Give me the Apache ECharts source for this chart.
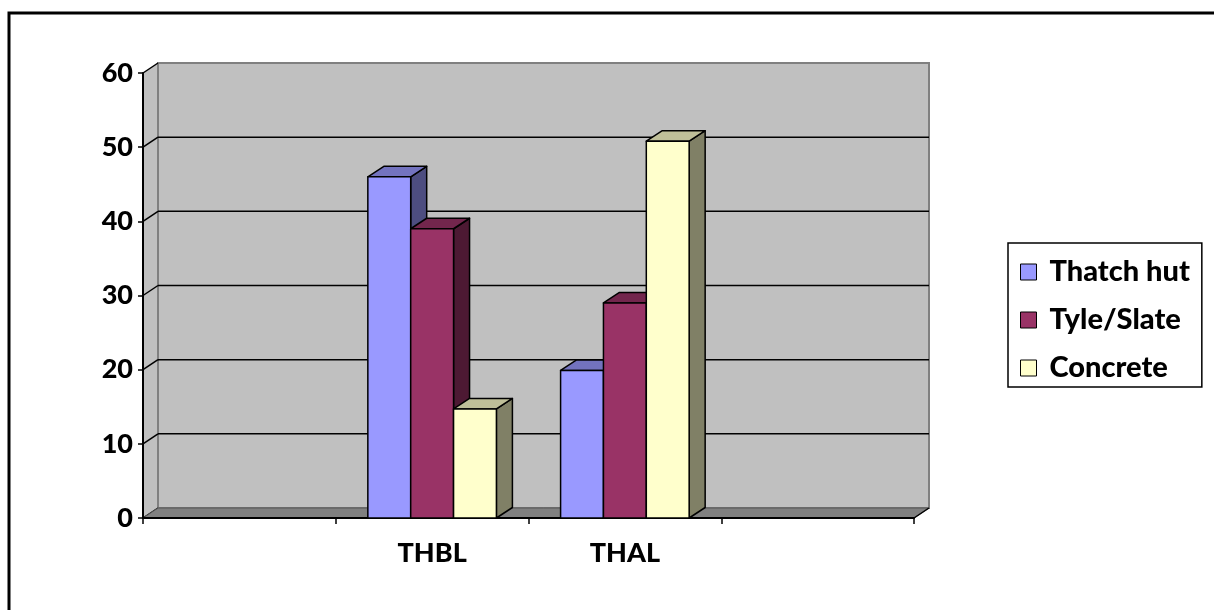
<!DOCTYPE html>
<html>
<head>
<meta charset="utf-8">
<script src="https://cdn.jsdelivr.net/npm/echarts@6/dist/echarts.min.js"></script>
<style>
  html, body { margin: 0; padding: 0; background: #fff; }
  #chart { width: 1214px; height: 610px; }
</style>
</head>
<body>
<div id="chart"></div>
<script>
// Roof type share (%) by area
const categories = ['', 'THBL', 'THAL', ''];
const seriesNames = ['Thatch hut', 'Tyle/Slate', 'Concrete'];
const thatchHut = [null, 46, 19.9, null];
const tyleSlate = [null, 39, 29, null];
const concrete  = [null, 14.7, 50.8, null];
const yTicks = [0, 10, 20, 30, 40, 50, 60];

// front / top / side shades for each series
const palette = [
  { front: '#9999ff', top: '#7373bf', side: '#4d4d80' },
  { front: '#993366', top: '#73264d', side: '#4d1933' },
  { front: '#ffffcc', top: '#bfbf99', side: '#808066' }
];

const FONT = 'Lato, Carlito, "Liberation Sans", sans-serif';
const WALL_DX = 15, WALL_DY = -10;   // depth of the back wall
const BAR_DX = 16, BAR_DY = -10.5;   // depth of each column
const GROUP_FRACTION = 0.667;        // share of a category taken by the column cluster

function toPairs(arr) {
  const out = [];
  arr.forEach((v, i) => { if (v !== null && v !== undefined) out.push([i, v]); });
  return out;
}

// walls: back wall, left side wall, floor and gridlines
function renderWalls(params, api) {
  const cs = params.coordSys;
  const x = cs.x, y = cs.y, w = cs.width, h = cs.height;
  const children = [];
  // side wall
  children.push({
    type: 'polygon',
    shape: { points: [[x, y], [x + WALL_DX, y + WALL_DY], [x + WALL_DX, y + h + WALL_DY], [x, y + h]] },
    style: { fill: '#c0c0c0', stroke: null }
  });
  // back wall
  children.push({
    type: 'rect',
    shape: { x: x + WALL_DX, y: y + WALL_DY, width: w, height: h },
    style: { fill: '#c0c0c0', stroke: '#808080', lineWidth: 2 }
  });
  // gridlines on back wall and side wall
  yTicks.forEach(v => {
    const py = api.coord([0, v])[1];
    if (v > 0 && v < 60) {
      children.push({
        type: 'line',
        shape: { x1: x + WALL_DX, y1: py + WALL_DY, x2: x + w + WALL_DX, y2: py + WALL_DY },
        style: { stroke: '#000', lineWidth: 1.5 }
      });
    }
    children.push({
      type: 'line',
      shape: { x1: x, y1: py, x2: x + WALL_DX, y2: py + WALL_DY },
      style: { stroke: '#000', lineWidth: 1.5 }
    });
  });
  // floor
  children.push({
    type: 'polygon',
    shape: { points: [[x, y + h], [x + WALL_DX, y + h + WALL_DY], [x + w + WALL_DX, y + h + WALL_DY], [x + w, y + h]] },
    style: { fill: '#808080', stroke: '#555555', lineWidth: 1 }
  });
  children.push({
    type: 'line',
    shape: { x1: x + w, y1: y + h, x2: x + w + WALL_DX, y2: y + h + WALL_DY },
    style: { stroke: '#000', lineWidth: 1.5 }
  });
  return { type: 'group', children };
}

function makeBarRenderer(idx) {
  const col = palette[idx];
  return function (params, api) {
    const cat = api.value(0);
    const val = api.value(1);
    const top = api.coord([cat, val]);
    const base = api.coord([cat, 0]);
    const band = api.size([1, 0])[0];
    const groupW = band * GROUP_FRACTION;
    const barW = groupW / seriesNames.length;
    const x0 = top[0] - groupW / 2 + idx * barW;
    const x1 = x0 + barW;
    const yt = top[1], yb = base[1];
    const stroke = { stroke: '#000', lineWidth: 1.5, lineJoin: 'round' };
    return {
      type: 'group',
      children: [
        {
          type: 'polygon',
          shape: { points: [[x1, yt], [x1 + BAR_DX, yt + BAR_DY], [x1 + BAR_DX, yb + BAR_DY], [x1, yb]] },
          style: Object.assign({ fill: col.side }, stroke)
        },
        {
          type: 'polygon',
          shape: { points: [[x0, yt], [x0 + BAR_DX, yt + BAR_DY], [x1 + BAR_DX, yt + BAR_DY], [x1, yt]] },
          style: Object.assign({ fill: col.top }, stroke)
        },
        {
          type: 'rect',
          shape: { x: x0, y: yt, width: barW, height: yb - yt },
          style: Object.assign({ fill: col.front }, stroke)
        }
      ]
    };
  };
}

const seriesData = [thatchHut, tyleSlate, concrete];

const option = {
  animation: false,
  backgroundColor: '#ffffff',
  graphic: [{
    type: 'rect',
    silent: true,
    z: -10,
    shape: { x: 9, y: 13, width: 1230, height: 620 },
    style: { fill: 'none', stroke: '#000', lineWidth: 3 }
  }],
  grid: { left: 143, right: 300, top: 73, bottom: 92 },
  xAxis: {
    type: 'category',
    data: categories,
    axisLine: { show: true, lineStyle: { color: '#000', width: 2 } },
    axisTick: { show: true, length: 6, lineStyle: { color: '#000', width: 1.5 } },
    axisLabel: { fontFamily: FONT, fontWeight: 900, fontSize: 27, color: '#000', margin: 22 },
    splitLine: { show: false }
  },
  yAxis: {
    type: 'value',
    min: 0, max: 60, interval: 10,
    axisLine: { show: true, lineStyle: { color: '#000', width: 2 } },
    axisTick: { show: true, length: 5, lineStyle: { color: '#000', width: 1.5 } },
    axisLabel: { fontFamily: FONT, fontWeight: 900, fontSize: 27, color: '#000', margin: 10 },
    splitLine: { show: false }
  },
  legend: {
    orient: 'vertical',
    left: 1008, top: 243,
    data: seriesNames,
    icon: 'rect',
    itemWidth: 16, itemHeight: 16,
    itemGap: 18,
    padding: [14, 12, 4, 12],
    borderColor: '#000', borderWidth: 1.5,
    itemStyle: { borderColor: '#000', borderWidth: 1 },
    textStyle: { fontFamily: FONT, fontWeight: 900, fontSize: 29, color: '#000', lineHeight: 30, padding: [0, 0, 0, 8] }
  },
  series: [
    {
      type: 'custom',
      z: -1,
      silent: true,
      renderItem: renderWalls,
      data: [[0, 0]],
      encode: { x: 0, y: 1 }
    }
  ].concat(seriesData.map((arr, i) => ({
    type: 'custom',
    name: seriesNames[i],
    itemStyle: { color: palette[i].front },
    renderItem: makeBarRenderer(i),
    data: toPairs(arr),
    encode: { x: 0, y: 1 }
  })))
};

const chart = echarts.init(document.getElementById('chart'), null, { renderer: 'canvas' });
chart.setOption(option);
</script>
</body>
</html>
